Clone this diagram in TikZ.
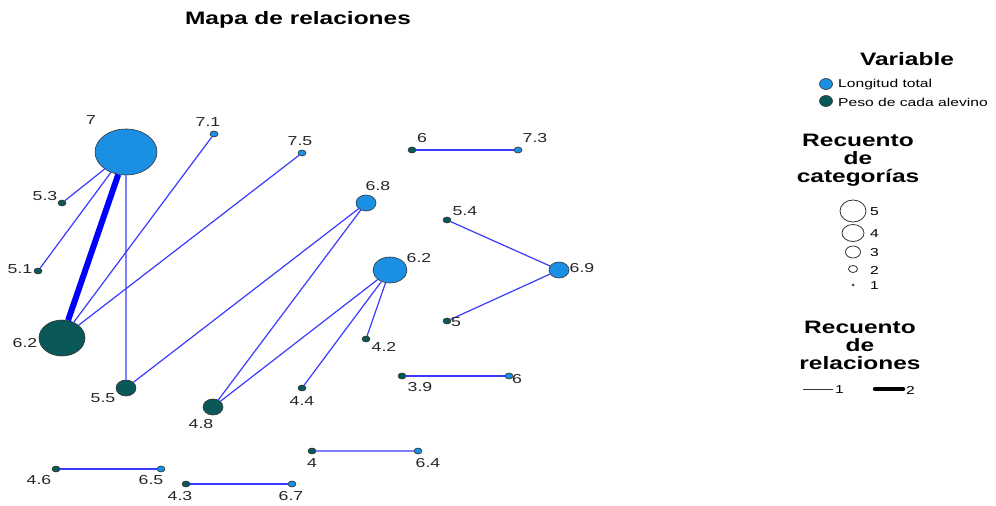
\documentclass[tikz,border=0pt]{standalone}
\usepackage{fontspec}
\setmainfont[FakeStretch=1.36]{Liberation Sans}
\usetikzlibrary{shapes.geometric}
\definecolor{lblue}{HTML}{1A8FE3}
\definecolor{dteal}{HTML}{0A5858}
\definecolor{edgeblue}{HTML}{3A3AFF}
\begin{document}
\begin{tikzpicture}[x=1pt,y=-1pt,
  vb/.style={ellipse,draw=black!80,line width=0.6pt,fill=lblue,inner sep=0pt},
  vd/.style={ellipse,draw=black!80,line width=0.6pt,fill=dteal,inner sep=0pt},
  sz1/.style={minimum width=8pt,minimum height=6pt},
  sz2/.style={minimum width=20pt,minimum height=16pt},
  sz3/.style={minimum width=34pt,minimum height=26pt},
  sz4/.style={minimum width=46pt,minimum height=36pt},
  sz5/.style={minimum width=62pt,minimum height=46pt},
  lbl/.style={font=\fontsize{13}{13}\selectfont,text=black!85,inner sep=0pt},
  edge/.style={draw=edgeblue,line width=1.2pt},
  softedge/.style={draw=edgeblue!65,line width=2.2pt},
  thickedge/.style={draw=blue,line width=6pt},
  lgh/.style={font=\bfseries\fontsize{18}{19}\selectfont,align=center,inner sep=0pt},
  lgt/.style={font=\fontsize{11.5}{12}\selectfont,inner sep=0pt,anchor=west},
  lc/.style={ellipse,draw=black!80,line width=0.8pt,fill=white,inner sep=0pt}
]
\useasboundingbox (0,0) rectangle (996,506);
\node[font=\bfseries\fontsize{18}{19}\selectfont,inner sep=0pt] (title) at (298,20) {Mapa de relaciones};
% nodes
\node[vb,sz5] (n7) at (126,152) {};
\node[vb,sz1] (n71) at (214,134) {};
\node[vb,sz1] (n75) at (302,153) {};
\node[vd,sz1] (n53) at (62,203) {};
\node[vd,sz1] (n51) at (38,271) {};
\node[vd,sz4] (n62d) at (62,338) {};
\node[vd,sz2] (n55) at (126,388) {};
\node[vd,sz2] (n48) at (213,407) {};
\node[vd,sz1] (n44) at (302,388) {};
\node[vb,sz2] (n68) at (366,203) {};
\node[vb,sz3] (n62b) at (390,270) {};
\node[vd,sz1] (n42) at (366,339) {};
\node[vd,sz1] (n6d) at (412,150) {};
\node[vb,sz1] (n73) at (518,150) {};
\node[vd,sz1] (n54) at (447,220) {};
\node[vb,sz2] (n69) at (559,270) {};
\node[vd,sz1] (n5) at (447,321) {};
\node[vd,sz1] (n39) at (402,376) {};
\node[vb,sz1] (n6b) at (509,376) {};
\node[vd,sz1] (n4) at (312,451) {};
\node[vb,sz1] (n64) at (418,451) {};
\node[vd,sz1] (n46) at (56,469) {};
\node[vb,sz1] (n65) at (161,469) {};
\node[vd,sz1] (n43) at (186,484) {};
\node[vb,sz1] (n67) at (292,484) {};
% edges
\draw[thickedge] (n7) -- (n62d);
\draw[edge] (n7) -- (n53);
\draw[edge] (n7) -- (n51);
\draw[softedge] (n7) -- (n55);
\draw[edge] (n71) -- (n62d);
\draw[edge] (n75) -- (n62d);
\draw[edge] (n68) -- (n55);
\draw[edge] (n68) -- (n48);
\draw[edge] (n62b) -- (n48);
\draw[edge] (n62b) -- (n44);
\draw[edge] (n62b) -- (n42);
\draw[edge] (n6d) -- (n73);
\draw[edge] (n54) -- (n69);
\draw[edge] (n5) -- (n69);
\draw[edge] (n39) -- (n6b);
\draw[softedge] (n4) -- (n64);
\draw[edge] (n46) -- (n65);
\draw[edge] (n43) -- (n67);
% labels
\node[lbl] (l7) at (91,120) {7};
\node[lbl] (l71) at (208,122) {7.1};
\node[lbl] (l75) at (300,141) {7.5};
\node[lbl] (l53) at (45,196) {5.3};
\node[lbl] (l51) at (20,269) {5.1};
\node[lbl] (l62d) at (25,343) {6.2};
\node[lbl] (l55) at (103,398) {5.5};
\node[lbl] (l48) at (201,424) {4.8};
\node[lbl] (l44) at (302,401) {4.4};
\node[lbl] (l68) at (378,186) {6.8};
\node[lbl] (l62b) at (419,258) {6.2};
\node[lbl] (l42) at (384,347) {4.2};
\node[lbl] (l6d) at (422,138) {6};
\node[lbl] (l73) at (535,138) {7.3};
\node[lbl] (l54) at (465,211) {5.4};
\node[lbl] (l69) at (582,268) {6.9};
\node[lbl] (l5) at (456,322) {5};
\node[lbl] (l39) at (420,387) {3.9};
\node[lbl] (l6b) at (517,379) {6};
\node[lbl] (l4) at (312,463) {4};
\node[lbl] (l64) at (428,463) {6.4};
\node[lbl] (l46) at (39,480) {4.6};
\node[lbl] (l65) at (151,480) {6.5};
\node[lbl] (l43) at (180,496) {4.3};
\node[lbl] (l67) at (291,496) {6.7};
% legend
\node[lgh] (hv) at (907,59) {Variable};
\node[ellipse,draw=black!80,line width=0.6pt,fill=lblue,minimum width=13pt,minimum height=11pt,inner sep=0pt] (lgb) at (826,84) {};
\node[lgt] (tlb) at (838,85) {Longitud total};
\node[ellipse,draw=black!80,line width=0.6pt,fill=dteal,minimum width=13pt,minimum height=11pt,inner sep=0pt] (lgd) at (826,101) {};
\node[lgt] (tld) at (838,102) {Peso de cada alevino};
\node[lgh] (hc) at (858,160) {Recuento\\[-1pt]de\\[-1pt]categorías};
\node[lc,minimum width=26pt,minimum height=22pt] (c5) at (853,211) {};
\node[lgt] (t5) at (870,212) {5};
\node[lc,minimum width=22pt,minimum height=17pt] (c4) at (853,233) {};
\node[lgt] (t4) at (870,234) {4};
\node[lc,minimum width=15pt,minimum height=12pt] (c3) at (853,252) {};
\node[lgt] (t3) at (870,253) {3};
\node[lc,minimum width=9pt,minimum height=7pt] (c2) at (853,269) {};
\node[lgt] (t2) at (870,270) {2};
\node[ellipse,fill=black!70,minimum width=3pt,minimum height=3pt,inner sep=0pt] (c1) at (853,285) {};
\node[lgt] (t1) at (870,286) {1};
\node[lgh] (hr) at (860,345) {Recuento\\[-1pt]de\\[-1pt]relaciones};
\coordinate (r1a) at (803,389);
\coordinate (r1b) at (833,389);
\draw[black!80,line width=0.7pt] (r1a) -- (r1b);
\node[lgt] (tr1) at (835,390) {1};
\coordinate (r2a) at (875,389);
\coordinate (r2b) at (903,389);
\draw[black,line width=4.5pt,line cap=round] (r2a) -- (r2b);
\node[lgt] (tr2) at (906,390) {2};
\end{tikzpicture}
\end{document}
